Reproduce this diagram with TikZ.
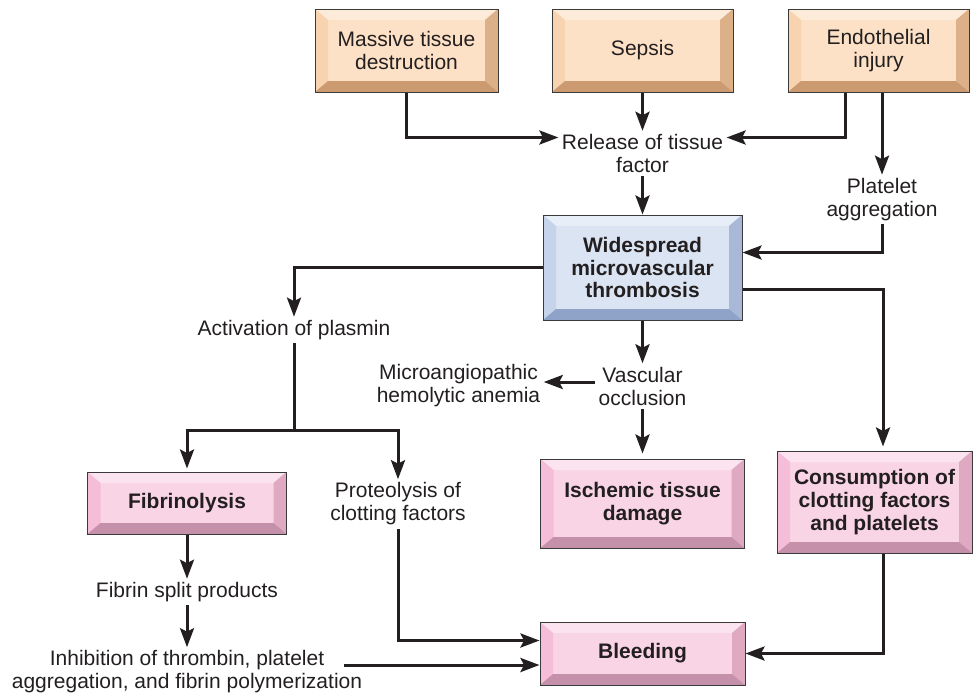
\documentclass[tikz,border=0pt]{standalone}
\usepackage{fontspec}
\setmainfont{Liberation Sans}
\usetikzlibrary{arrows.meta,positioning,calc}
\definecolor{ink}{HTML}{231F20}
\definecolor{edge}{HTML}{3A3A3A}
\definecolor{peachface}{HTML}{FCE1C6}
\definecolor{peachtop}{HTML}{FDEBDA}
\definecolor{peachleft}{HTML}{F8D3AF}
\definecolor{peachright}{HTML}{DCB089}
\definecolor{peachbottom}{HTML}{CB9A71}
\definecolor{blueface}{HTML}{DAE4F2}
\definecolor{bluetop}{HTML}{E7EEF8}
\definecolor{blueleft}{HTML}{C5D3EB}
\definecolor{blueright}{HTML}{A8B8D6}
\definecolor{bluebottom}{HTML}{8FA3C8}
\definecolor{pinkface}{HTML}{F9D4E5}
\definecolor{pinktop}{HTML}{FBE4EF}
\definecolor{pinkleft}{HTML}{F5BDD7}
\definecolor{pinkright}{HTML}{DEA9C1}
\definecolor{pinkbottom}{HTML}{C590A9}
\tikzset{>={Stealth[length=19pt, width=14pt, inset=3.5pt]},
  flow/.style={->, line width=3pt, draw=ink},
  lbl/.style={align=center, text=ink, font=\fontsize{21}{23}\selectfont},
  bevel/.style n args={5}{draw=edge, line width=1pt, fill=#1, align=center, text=ink, inner sep=0pt,
    font=\fontsize{21}{23}\selectfont,
    path picture={
      \fill[#2] (path picture bounding box.north west) -- (path picture bounding box.north east)
        -- ([shift={(-13pt,-11pt)}]path picture bounding box.north east) -- ([shift={(13pt,-11pt)}]path picture bounding box.north west) -- cycle;
      \fill[#3] (path picture bounding box.north west) -- ([shift={(13pt,-11pt)}]path picture bounding box.north west)
        -- ([shift={(13pt,11pt)}]path picture bounding box.south west) -- (path picture bounding box.south west) -- cycle;
      \fill[#4] (path picture bounding box.north east) -- ([shift={(-13pt,-11pt)}]path picture bounding box.north east)
        -- ([shift={(-13pt,11pt)}]path picture bounding box.south east) -- (path picture bounding box.south east) -- cycle;
      \fill[#5] (path picture bounding box.south west) -- (path picture bounding box.south east)
        -- ([shift={(-13pt,11pt)}]path picture bounding box.south east) -- ([shift={(13pt,11pt)}]path picture bounding box.south west) -- cycle;
    }},
  peachbox/.style={bevel={peachface}{peachtop}{peachleft}{peachright}{peachbottom}},
  bluebox/.style={bevel={blueface}{bluetop}{blueleft}{blueright}{bluebottom}, font=\fontsize{21}{22.5}\selectfont\bfseries},
  pinkbox/.style={bevel={pinkface}{pinktop}{pinkleft}{pinkright}{pinkbottom}, font=\fontsize{21}{23}\selectfont\bfseries}}

\begin{document}
\begin{tikzpicture}[x=1pt, y=-1pt]
  \useasboundingbox (0,0) rectangle (976,694);
  % causes
  \foreach \n/\x/\w/\t in {mtd/406.5/183/{Massive tissue\\destruction}, sep/642.5/181/{Sepsis}, endo/878.5/181/{Endothelial\\injury}}
    \node[peachbox, minimum width=\w pt, minimum height=83pt] (\n) at (\x,50.5) {\t};
  % tissue factor and platelets
  \node[lbl] (rel) at (642.5,153.5) {Release of tissue\\factor};
  \node[lbl] (plat) at (882,199.5) {Platelet\\aggregation};
  \draw[flow] (mtd.south) |- ([yshift=16pt]rel.west);
  \draw[flow] (sep.south) -- (rel.north);
  \draw[flow] ([xshift=-33pt]endo.south) |- ([yshift=16pt]rel.east);
  \draw[flow] ([xshift=3.5pt]endo.south) -- (plat.north);
  % thrombosis
  \node[bluebox, minimum width=199pt, minimum height=105pt] (wmt) at (642.5,267.5) {Widespread\\microvascular\\thrombosis};
  \draw[flow] (rel.south) -- (wmt.north);
  \draw[flow] (plat.south) |- ([yshift=15pt]wmt.east);
  % plasmin branch
  \node[lbl] (act) at (294,330) {Activation of plasmin};
  \coordinate (split) at (294,430);
  \node[pinkbox, minimum width=199pt, minimum height=62pt] (fib) at (187,503) {Fibrinolysis};
  \node[lbl] (prot) at (398,504) {Proteolysis of\\clotting factors};
  \node[lbl] (fsp) at (187,592) {Fibrin split products};
  \node[lbl] (inh) at (187,672) {Inhibition of thrombin, platelet\\aggregation, and fibrin polymerization};
  \draw[flow] (wmt.west) -| (act.north);
  \draw[flow, shorten >=3pt] (act.south) -- (split) -| (fib.north);
  \draw[flow] (split) -| (prot.north);
  \draw[flow] (fib.south) -- (fsp.north);
  \draw[flow] (fsp.south) -- (inh.north);
  % occlusion
  \node[lbl] (vasc) at (642.5,386) {Vascular\\occlusion};
  \node[lbl] (micro) at (458.5,386) {Microangiopathic\\hemolytic anemia};
  \node[pinkbox, minimum width=204pt, minimum height=89pt] (isch) at (642.5,503.5) {Ischemic tissue\\damage};
  \draw[flow] (wmt.south) -- (vasc.north);
  \draw[flow] ([yshift=4pt]vasc.west) -- ([yshift=4pt]micro.east);
  \draw[flow, shorten >=5pt] (vasc.south) -- (isch.north);
  % consumption and bleeding
  \node[pinkbox, minimum width=195pt, minimum height=102pt] (cons) at (874.5,502) {Consumption of\\clotting factors\\and platelets};
  \node[pinkbox, minimum width=205pt, minimum height=63pt] (bleed) at (642.5,653.5) {Bleeding};
  \draw[flow, shorten >=4pt] ([yshift=-22pt]wmt.east) -| ([xshift=8.5pt]cons.north);
  \draw[flow] ([xshift=8.5pt]cons.south) |- (bleed.east);
  \draw[flow] (prot.south) |- ([yshift=13pt]bleed.west);
  \coordinate (inhout) at (344,665);
  \draw[flow] (inhout) -- (inhout -| bleed.west);
\end{tikzpicture}
\end{document}
